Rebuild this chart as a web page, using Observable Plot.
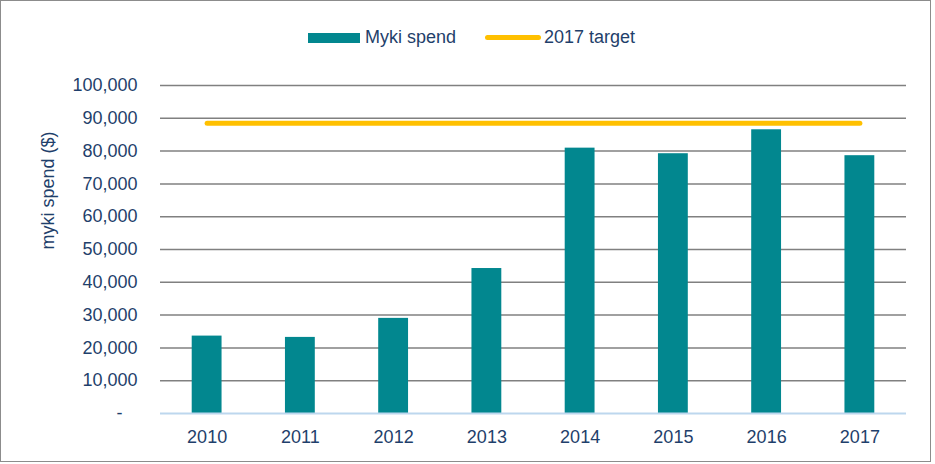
<!DOCTYPE html>
<html>
<head>
<meta charset="utf-8">
<script src="https://cdn.jsdelivr.net/npm/d3@7"></script>
<script src="https://cdn.jsdelivr.net/npm/@observablehq/plot@0.6"></script>
<style>
  html, body { margin: 0; padding: 0; background: #fff; }
  body { width: 935px; height: 464px; position: relative; overflow: hidden; font-family: "Liberation Sans", Arial, sans-serif; }
  #frame { position: absolute; left: 0; top: 0; width: 929px; height: 460px; border: 1px solid #8c8c8c; pointer-events: none; }
  #legend { position: absolute; left: 0; top: 0; width: 935px; height: 60px; }
  .item { position: absolute; top: 27px; font-size: 18px; color: #1F3F6B; line-height: 20px; white-space: nowrap; }
  .sw-bar { position: absolute; left: 308px; top: 33px; width: 52px; height: 10px; background: #02878F; }
  .sw-line { position: absolute; left: 485px; top: 35px; width: 56px; height: 5px; border-radius: 3px; background: #FFC000; }
  #chart { position: absolute; left: 0; top: 60px; }
</style>
</head>
<body>
<div id="legend">
  <div class="sw-bar"></div>
  <div class="item" style="left:365px">Myki spend</div>
  <div class="sw-line"></div>
  <div class="item" style="left:544px">2017 target</div>
</div>
<div id="chart"></div>
<div id="frame"></div>
<script>
const years = ["2010", "2011", "2012", "2013", "2014", "2015", "2016", "2017"];
const spend = [23600, 23200, 29000, 44200, 80900, 79200, 86500, 78600];
const target2017 = 88500;
const yTicks = [0, 10000, 20000, 30000, 40000, 50000, 60000, 70000, 80000, 90000, 100000];
const yLabel = "myki spend ($)";

const barData = years.map((y, i) => ({year: y, value: spend[i]}));
const targetData = years.map(y => ({year: y, value: target2017}));

const textColor = "#1F3F6B";
const fmt = d3.format(",");

const chart = Plot.plot({
  width: 935,
  height: 404,
  marginTop: 25,
  marginBottom: 51,
  marginLeft: 160,
  marginRight: 29,
  style: {fontFamily: "'Liberation Sans', Arial, sans-serif", fontSize: "18px", color: textColor, background: "transparent"},
  x: {domain: years, paddingInner: 0.68, paddingOuter: 0.34, round: false, label: null},
  y: {domain: [0, 100000], label: null},
  marks: [
    Plot.gridY(yTicks.filter(d => d > 0), {stroke: "#808080", strokeOpacity: 1, strokeWidth: 1.5}),
    Plot.barY(barData, {x: "year", y: "value", fill: "#02878F"}),
    Plot.ruleY([0], {stroke: "#BDD7EE", strokeWidth: 2}),
    Plot.lineY(targetData, {x: "year", y: "value", stroke: "#FFC000", strokeWidth: 5, strokeLinecap: "round"}),
    Plot.axisY({ticks: yTicks, tickSize: 0, tickPadding: 23, fill: textColor, fontSize: 18,
      tickFormat: d => d === 0 ? "-\u00A0\u00A0\u00A0" : fmt(d), label: null}),
    Plot.axisX({tickSize: 0, tickPadding: 17, fill: textColor, fontSize: 18, label: null}),
    Plot.text([yLabel], {frameAnchor: "left", dx: -112, rotate: -90, fill: textColor, fontSize: 18})
  ]
});
document.getElementById("chart").appendChild(chart);
</script>
</body>
</html>
